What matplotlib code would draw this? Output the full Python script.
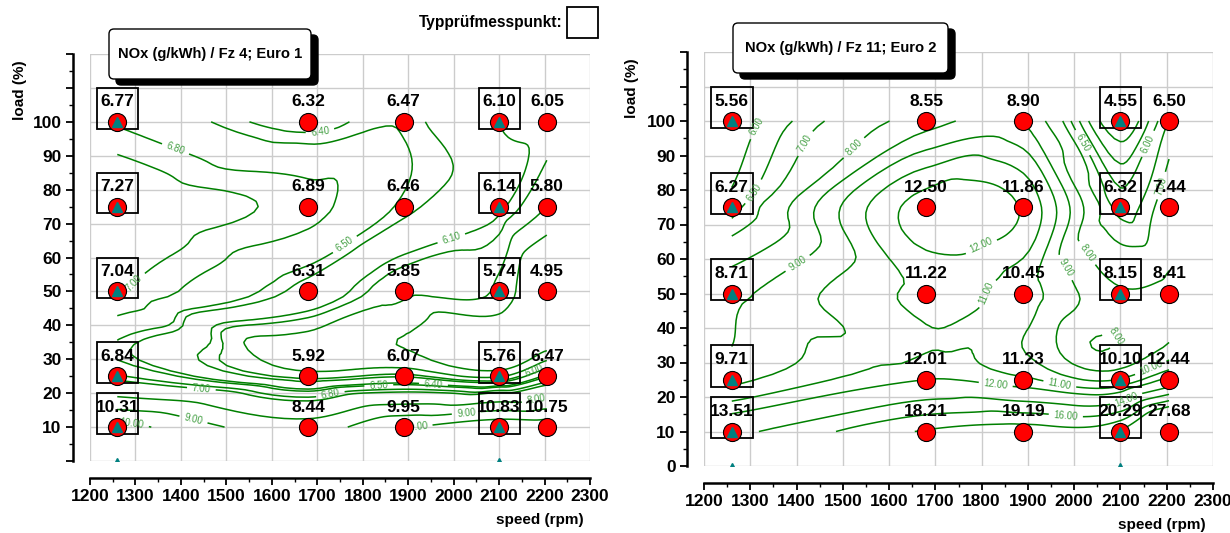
import numpy as np
import matplotlib
matplotlib.use('Agg')
import matplotlib.pyplot as plt
import matplotlib.tri as mtri
from matplotlib.patches import Rectangle, FancyBboxPatch
from matplotlib.ticker import MultipleLocator, FuncFormatter

plt.rcParams['font.family'] = ['Liberation Sans', 'DejaVu Sans']

# Messpunkte
speed = [1260, 1680, 1890, 2100, 2205]
load = [10, 25, 50, 75, 100]
typ_speed = [1260, 2100]

# NOx (g/kWh), Zeilen = load, Spalten = speed
nox_fz4 = np.array([
    [10.31, 8.44, 9.95, 10.83, 10.75],
    [6.84, 5.92, 6.07, 5.76, 6.47],
    [7.04, 6.31, 5.85, 5.74, 4.95],
    [7.27, 6.89, 6.46, 6.14, 5.80],
    [6.77, 6.32, 6.47, 6.10, 6.05],
])
nox_fz11 = np.array([
    [13.51, 18.21, 19.19, 20.29, 27.68],
    [9.71, 12.01, 11.23, 10.10, 12.44],
    [8.71, 11.22, 10.45, 8.15, 8.41],
    [6.27, 12.50, 11.86, 6.32, 7.44],
    [5.56, 8.55, 8.90, 4.55, 6.50],
])

levels_fz4 = [5.5, 5.8, 6.0, 6.1, 6.4, 6.5, 6.8, 7.0, 8.0, 9.0, 10.0]
labels_fz4 = [6.0, 6.1, 6.4, 6.5, 6.8, 7.0, 8.0, 9.0, 10.0]
levels_fz11 = [5.0, 5.5, 6.0, 6.5, 7.0, 8.0, 9.0, 10.0, 11.0, 12.0, 14.0, 16.0, 18.0, 20.0]
labels_fz11 = [6.0, 6.5, 7.0, 8.0, 9.0, 10.0, 11.0, 12.0, 14.0, 16.0]

W, H = 1230, 533
fig = plt.figure(figsize=(W / 100, H / 100), dpi=100)


def px_box(x0, y0, x1, y1):
    # Pixel (oben-links) -> figure fraction
    return [x0 / W, 1 - y1 / H, (x1 - x0) / W, (y1 - y0) / H]


def panel(rect, values, levels, label_levels, zero_label):
    ax = fig.add_axes(rect)
    ax.set_xlim(1200, 2300)
    ax.set_ylim(0, 120)

    # Kennfeld: glatte Isolinien ueber verfeinerte Triangulation
    X, Y = np.meshgrid(speed, load)
    tri = mtri.Triangulation(X.ravel() / 100.0, Y.ravel() / 10.0)
    interp = mtri.CubicTriInterpolator(tri, values.ravel(), kind='geom')
    tri_f, z_f = mtri.UniformTriRefiner(tri).refine_field(values.ravel(), interp, subdiv=4)
    tri_f = mtri.Triangulation(tri_f.x * 100.0, tri_f.y * 10.0, tri_f.triangles)
    cs = ax.tricontour(tri_f, z_f, levels=levels, colors='#008000',
                       linewidths=1.1, zorder=2)
    txts = ax.clabel(cs, label_levels, fmt='%.2f', fontsize=7, colors='#45a045')
    for t in txts:
        t.set_fontweight('normal')

    for j, y in enumerate(load):
        for i, x in enumerate(speed):
            ax.plot(x, y, 'o', ms=13, mfc='red', mec='black', mew=0.8, zorder=4)
            ax.annotate(f'{values[j, i]:.2f}', (x, y), xytext=(0, 9),
                        textcoords='offset points', ha='center', va='bottom',
                        fontsize=12.5, fontweight='bold', zorder=6)
            if x in typ_speed:
                ax.plot(x, y, '^', ms=7, color='#008080', zorder=5)
                ax.add_patch(Rectangle((x - 45, y - 2), 90, 12, fill=False,
                                       ec='black', lw=1.3, zorder=3))
    ax.plot(typ_speed, [0, 0], '^', ms=5, color='#008080', zorder=5)

    ax.set_xticks(range(1200, 2301, 100))
    ax.xaxis.set_minor_locator(MultipleLocator(50))
    ax.set_yticks(range(0, 121, 10))
    ax.yaxis.set_minor_locator(MultipleLocator(5))
    lo = 0 if zero_label else 10
    ax.yaxis.set_major_formatter(FuncFormatter(
        lambda v, p: f'{v:.0f}' if lo <= v <= 100 else ''))
    ax.grid(True, which='major', color='#cccccc', lw=1)
    ax.set_axisbelow(True)
    for s in ['top', 'right']:
        ax.spines[s].set_visible(False)
    for s in ['left', 'bottom']:
        ax.spines[s].set_position(('outward', 12.5))
        ax.spines[s].set_linewidth(1.8)
    ax.tick_params(which='major', length=5, width=1.3, labelsize=12.5, pad=3)
    ax.tick_params(which='minor', length=3, width=1)
    for lab in ax.get_xticklabels() + ax.get_yticklabels():
        lab.set_fontweight('bold')
    return ax


ax1 = panel(px_box(90, 54, 590, 461), nox_fz4, levels_fz4, labels_fz4, False)
ax2 = panel(px_box(704, 52, 1213, 466), nox_fz11, levels_fz11, labels_fz11, True)


def title_box(x0, y0, x1, y1, text):
    tr = fig.dpi_scale_trans
    shadow = FancyBboxPatch((x0 / 100 + 0.07, (H - y1) / 100 - 0.06),
                            (x1 - x0) / 100, (y1 - y0) / 100,
                            boxstyle='round,pad=0,rounding_size=0.05',
                            fc='black', ec='black', transform=tr, zorder=8)
    box = FancyBboxPatch((x0 / 100, (H - y1) / 100), (x1 - x0) / 100, (y1 - y0) / 100,
                         boxstyle='round,pad=0,rounding_size=0.05',
                         fc='white', ec='black', lw=1, transform=tr, zorder=9)
    fig.patches.extend([shadow, box])
    fig.text((x0 + x1) / 2 / W, 1 - (y0 + y1) / 2 / H, text, ha='center', va='center',
             fontsize=10.6, fontweight='bold', zorder=10)


title_box(109, 29, 311, 79, 'NOx (g/kWh) / Fz 4; Euro 1')
title_box(733, 23, 948, 73, 'NOx (g/kWh) / Fz 11; Euro 2')

# Legende
fig.text(563 / W, 1 - 22 / H, 'Typprüfmesspunkt:', ha='right', va='center',
         fontsize=11.2, fontweight='bold')
fig.patches.append(Rectangle((567 / W, 1 - 38 / H), 31 / W, 31 / H, fill=False,
                             ec='black', lw=1.3, transform=fig.transFigure))

# Achsentitel
fig.text(20 / W, 1 - 90 / H, 'load (%)', rotation=90, ha='center', va='center',
         fontsize=11, fontweight='bold')
fig.text(632 / W, 1 - 88 / H, 'load (%)', rotation=90, ha='center', va='center',
         fontsize=11, fontweight='bold')
fig.text(584 / W, 1 - 520 / H, 'speed (rpm)', ha='right', va='center',
         fontsize=11, fontweight='bold')
fig.text(1206 / W, 1 - 525 / H, 'speed (rpm)', ha='right', va='center',
         fontsize=11, fontweight='bold')

fig.savefig('out.png', dpi=100)
